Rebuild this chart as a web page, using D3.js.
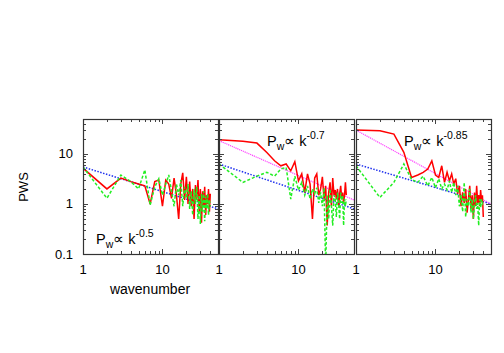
<!DOCTYPE html>
<html>
<head>
<meta charset="utf-8">
<script src="https://cdn.jsdelivr.net/npm/d3@7"></script>
<style>
  body { margin: 0; background: #fff; }
  svg { display: block; font-family: "Liberation Sans", Arial, sans-serif; }
</style>
</head>
<body>
<svg id="chart" width="504" height="353"></svg>
<script>
// wavenumber k = 1..40
var wavenumber = d3.range(1, 41);

var red1 = [5.2, 2.0, 3.3, 2.8, 2.5, 2.3, 1.0, 2.8, 3.0, 0.9,
            3.0, 2.5, 1.3, 3.3, 1.5, 0.5, 2.5, 4.2, 1.2, 3.5,
            1.0, 2.8, 0.9, 2.0, 0.5, 2.4, 1.2, 3.0, 0.7, 2.0,
            0.42, 1.8, 0.9, 2.2, 0.6, 1.5, 1.0, 2.0, 0.7, 1.6];
var green1 = [5.5, 1.3, 3.8, 2.8, 2.0, 4.8, 0.95, 2.2, 3.2, 1.5,
              2.5, 3.8, 1.8, 0.9, 2.5, 1.5, 3.0, 0.9, 2.2, 1.3,
              2.5, 0.8, 1.8, 0.6, 2.0, 1.0, 2.2, 0.5, 1.5, 0.4,
              1.6, 0.7, 1.8, 0.45, 1.4, 0.8, 1.6, 0.6, 1.2, 0.9];

var red2 = [19.3, 18, 16.5, 10.7, 7.3, 5.8, 6.3, 4.6, 7.0, 2.9,
            4.0, 1.7, 4.0, 2.5, 0.5, 3.3, 4.0, 1.5, 2.0, 3.5,
            1.25, 2.3, 0.37, 1.7, 2.7, 0.9, 3.3, 1.5, 1.9, 1.25,
            2.0, 0.9, 1.6, 2.3, 1.25, 1.7, 1.05, 1.5, 2.7, 1.5];
var green2 = [6.3, 2.7, 3.6, 4.3, 3.6, 5.0, 5.4, 1.25, 3.6, 1.9,
              2.7, 1.5, 2.3, 1.25, 2.0, 1.6, 2.1, 1.05, 1.7, 0.9,
              2.1, 0.05, 1.5, 0.5, 2.0, 0.9, 0.37, 1.5, 1.25, 0.55,
              1.7, 1.05, 0.5, 1.7, 1.05, 1.5, 0.37, 1.25, 0.9, 1.25];

var red3 = [30, 29, 25, 10.8, 3.4, 3.8, 4.3, 5.0, 7.3, 3.8,
            3.4, 5.8, 2.7, 4.3, 2.9, 4.0, 2.5, 3.2, 1.6, 2.3,
            0.9, 1.7, 1.05, 2.0, 0.67, 1.25, 2.3, 0.8, 1.5, 0.5,
            1.7, 0.9, 2.3, 1.05, 1.5, 0.9, 1.9, 1.15, 1.5, 0.55];
var green3 = [5.8, 1.35, 2.7, 6.3, 3.1, 2.7, 3.6, 2.3, 3.4, 2.1,
              3.2, 2.0, 2.5, 1.9, 2.9, 1.7, 2.7, 1.5, 2.3, 0.9,
              1.5, 0.7, 2.7, 0.55, 1.25, 0.9, 2.0, 0.67, 1.25, 0.5,
              1.05, 1.5, 0.8, 1.05, 0.37, 1.25, 0.85, 1.25, 1.0, 1.05];

// reference power laws: [k, P] endpoints
var blue1 = [[1, 5.5], [50, 0.8]];
var blue2 = [[1, 6.3], [50, 0.8]];
var blue3 = [[1, 6.3], [50, 1.0]];
var pink2 = [[1, 18.5], [50, 1.2]];
var pink3 = [[1, 30], [50, 1.0]];

var slopeLabels = ["-0.5", "-0.7", "-0.85"];
var yTickLabels = [0.1, 1, 10];
var xTickLabels = [1, 10];

var panelLeft = [83, 219, 356];
var panelWidth = 135;
var plotTop = 119, plotBottom = 254;

var svg = d3.select("#chart");

var yScale = d3.scaleLog().domain([0.1, 50]).range([plotBottom, plotTop]);

var panels = [
    {red: red1, green: green1, blue: blue1, pink: null, label: slopeLabels[0], lx: 96, ly: 244},
    {red: red2, green: green2, blue: blue2, pink: pink2, label: slopeLabels[1], lx: 267, ly: 146},
    {red: red3, green: green3, blue: blue3, pink: pink3, label: slopeLabels[2], lx: 404, ly: 146}
];

var minorY = [0.2, 0.3, 0.4, 0.5, 0.6, 0.7, 0.8, 0.9, 2, 3, 4, 5, 6, 7, 8, 9, 20, 30, 40];
var minorX = [2, 3, 4, 5, 6, 7, 8, 9, 20, 30, 40];

panels.forEach(function(p, i) {
    var x0 = panelLeft[i];
    var xScale = d3.scaleLog().domain([1, 50]).range([x0, x0 + panelWidth]);

    var g = svg.append("g");
    g.append("clipPath").attr("id", "clip" + i)
        .append("rect")
        .attr("x", x0).attr("y", plotTop)
        .attr("width", panelWidth).attr("height", plotBottom - plotTop);

    var line = d3.line()
        .x(function(d) { return xScale(d[0]); })
        .y(function(d) { return yScale(d[1]); });

    var plot = g.append("g").attr("clip-path", "url(#clip" + i + ")");

    plot.append("path")
        .datum(p.blue)
        .attr("d", line)
        .attr("fill", "none")
        .attr("stroke", "#2233ee")
        .attr("stroke-width", 1.5)
        .attr("stroke-dasharray", "1.5,1.5");

    if (p.pink) {
        plot.append("path")
            .datum(p.pink)
            .attr("d", line)
            .attr("fill", "none")
            .attr("stroke", "#ff44ff")
            .attr("stroke-width", 1.2)
            .attr("stroke-dasharray", "1.2,0.8");
    }

    plot.append("path")
        .datum(wavenumber.map(function(k, j) { return [k, p.red[j]]; }))
        .attr("d", line)
        .attr("fill", "none")
        .attr("stroke", "#ff0000")
        .attr("stroke-width", 1.5)
        .attr("stroke-linejoin", "miter");

    plot.append("path")
        .datum(wavenumber.map(function(k, j) { return [k, p.green[j]]; }))
        .attr("d", line)
        .attr("fill", "none")
        .attr("stroke", "#22ee22")
        .attr("stroke-width", 1.5)
        .attr("stroke-dasharray", "3,2");

    // ticks, all pointing inward
    var tk = g.append("g").attr("stroke", "#444").attr("stroke-width", 1);
    yTickLabels.concat(minorY).forEach(function(v) {
        var len = yTickLabels.indexOf(v) >= 0 ? 5 : 3;
        var y = Math.round(yScale(v)) + 0.5;
        tk.append("line").attr("x1", x0).attr("x2", x0 + len).attr("y1", y).attr("y2", y);
        tk.append("line").attr("x1", x0 + panelWidth).attr("x2", x0 + panelWidth - len).attr("y1", y).attr("y2", y);
    });
    xTickLabels.concat(minorX).forEach(function(v) {
        var len = xTickLabels.indexOf(v) >= 0 ? 5 : 3;
        var x = Math.round(xScale(v)) + 0.5;
        tk.append("line").attr("x1", x).attr("x2", x).attr("y1", plotBottom).attr("y2", plotBottom - len);
        tk.append("line").attr("x1", x).attr("x2", x).attr("y1", plotTop).attr("y2", plotTop + len);
    });

    g.append("rect")
        .attr("x", x0 + 0.5).attr("y", plotTop + 0.5)
        .attr("width", panelWidth).attr("height", plotBottom - plotTop)
        .attr("fill", "none")
        .attr("stroke", "#333")
        .attr("stroke-width", 1.2);

    // x tick labels
    g.selectAll(".xl").data(xTickLabels).enter().append("text")
        .attr("x", function(d) { return xScale(d); })
        .attr("y", 274)
        .attr("text-anchor", "middle")
        .attr("font-size", 13)
        .text(function(d) { return d; });

    // power law label
    var t = g.append("text")
        .attr("x", p.lx).attr("y", p.ly)
        .attr("font-size", 14.5);
    t.append("tspan").text("P");
    t.append("tspan").attr("font-size", 10.5).attr("dy", 3.5).text("w");
    t.append("tspan").attr("dy", -3.5).text("\u221D k");
    t.append("tspan").attr("font-size", 10.5).attr("dy", -7).text(p.label);
});

// y tick labels
svg.selectAll(".yl").data(yTickLabels).enter().append("text")
    .attr("x", 73)
    .attr("y", function(d) { return yScale(d) + 4.5; })
    .attr("text-anchor", "end")
    .attr("font-size", 13)
    .text(function(d) { return d; });

svg.append("text")
    .attr("transform", "translate(28,187) rotate(-90)")
    .attr("text-anchor", "middle")
    .attr("font-size", 13)
    .text("PWS");

svg.append("text")
    .attr("x", 150).attr("y", 294)
    .attr("text-anchor", "middle")
    .attr("font-size", 14)
    .text("wavenumber");
</script>
</body>
</html>
